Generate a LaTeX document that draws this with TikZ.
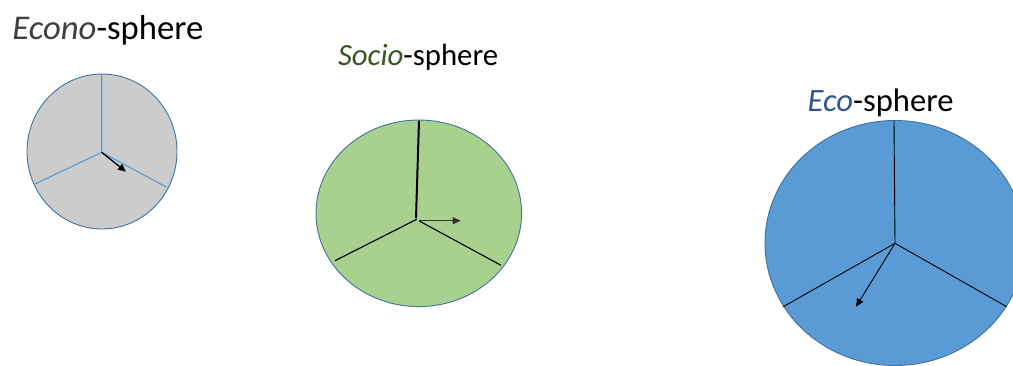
\documentclass[tikz,border=0pt]{standalone}
\usepackage{fontspec}
\setmainfont{Carlito}
\usetikzlibrary{arrows.meta}
\definecolor{econofill}{HTML}{CCCCCC}
\definecolor{sociofill}{HTML}{A9D18E}
\definecolor{ecofill}{HTML}{5B9BD5}
\definecolor{rimblue}{HTML}{41719C}
\definecolor{spokeblue}{HTML}{5B9BD5}
\definecolor{econotext}{HTML}{404040}
\definecolor{sociotext}{HTML}{385723}
\definecolor{ecotext}{HTML}{2F5597}
\tikzset{
  sphere/.style={draw=rimblue, line width=0.9pt},
  spoke/.style={draw=black, line width=1.1pt},
  lightspoke/.style={draw=spokeblue, line width=1.1pt},
  motion/.style={draw=black, line width=1.2pt, -{Triangle[length=8pt,width=7pt]}},
  title/.style={anchor=base west, inner sep=0pt, outer sep=0pt},
}
\begin{document}
\begin{tikzpicture}[x=1pt,y=-1pt]
\useasboundingbox (0,0) rectangle (1013,365);
\clip (0,0) rectangle (1013,365);
% Econo-sphere
\node[title] (econoT) at (12.5,39.3) {\fontsize{34.7}{40}\selectfont\textcolor{econotext}{\itshape Econo}-sphere};
\fill[econofill] (102,151.5) ellipse [x radius=75, y radius=77.5];
\coordinate (ec) at (101.7,152.3);
\coordinate (etop) at (101.7,74);
\coordinate (eleft) at (35,184);
\coordinate (eright) at (166.7,187.3);
\coordinate (earr) at (126,171.7);
\draw[lightspoke] (ec) -- (etop) (ec) -- (eleft) (ec) -- (eright);
\draw[sphere] (102,151.5) ellipse [x radius=75, y radius=77.5];
\draw[motion, line width=1.3pt] (ec) -- (earr);
% Socio-sphere
\node[title] (socioT) at (338,65) {\fontsize{30.8}{36}\selectfont\textcolor{sociotext}{\itshape Socio}-sphere};
\fill[sociofill] (418.8,213.3) ellipse [x radius=102.8, y radius=93.3];
\draw[sphere] (418.8,213.3) ellipse [x radius=102.8, y radius=93.3];
\coordinate (sc) at (416.7,219.3);
\coordinate (stop) at (419,120.7);
\coordinate (sleft) at (335,260.7);
\coordinate (sright) at (501,265.3);
\coordinate (sarrS) at (419.3,220.7);
\coordinate (sarrE) at (460.7,220.7);
\draw[spoke, line width=2pt] (416,218.3) -- (stop);
\draw[spoke] (sc) -- (sleft);
\draw[spoke] (419.3,221) -- (sright);
\draw[motion, draw=black!80] (sarrS) -- (sarrE);
% Eco-sphere
\node[title] (ecoT) at (807.7,111.7) {\fontsize{32.6}{38}\selectfont\textcolor{ecotext}{\itshape Eco}-sphere};
\fill[ecofill] (895,243) ellipse [x radius=130, y radius=122.5];
\draw[sphere] (895,243) ellipse [x radius=130, y radius=122.5];
\coordinate (oc) at (895,243.3);
\coordinate (otop) at (894,120.7);
\coordinate (oleft) at (783.3,306.7);
\coordinate (oright) at (1006.7,306.7);
\coordinate (oarr) at (856,306.7);
\draw[spoke, line width=0.9pt] (oc) -- (otop) (oc) -- (oleft) (oc) -- (oright);
\draw[motion, line width=0.9pt] (oc) -- (oarr);
\end{tikzpicture}
\end{document}
